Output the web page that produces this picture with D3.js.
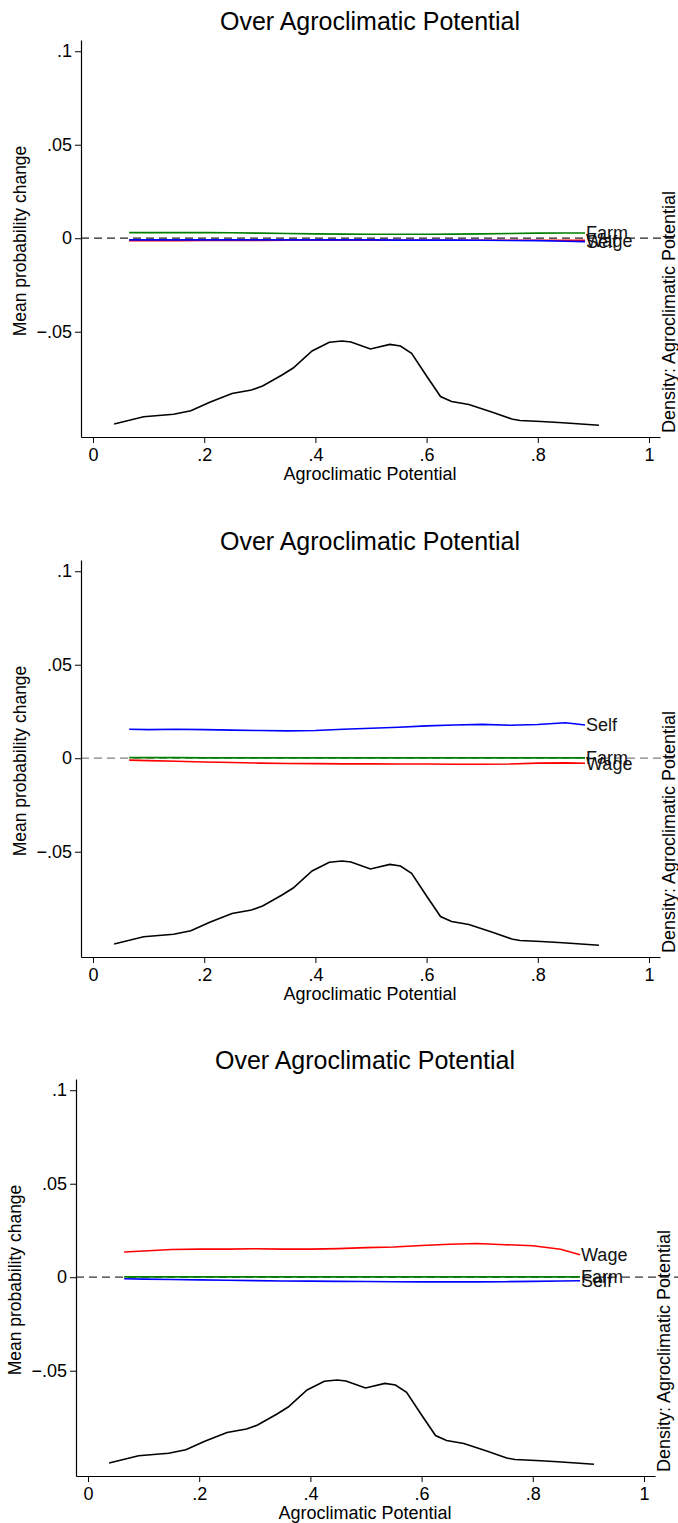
<!DOCTYPE html>
<html>
<head>
<meta charset="utf-8">
<script src="https://cdn.jsdelivr.net/npm/d3@7"></script>
<style>
  body { margin: 0; background: #fff; }
  svg { display: block; font-family: "Liberation Sans", Arial, sans-serif; }
</style>
</head>
<body>
<svg id="chart" width="678" height="1523"></svg>
<script>
// agroclimatic potential grid for the effect lines
let agro = [0.065, 0.10, 0.15, 0.20, 0.25, 0.30, 0.35, 0.40, 0.45, 0.50, 0.55, 0.60, 0.65, 0.70, 0.75, 0.80, 0.85, 0.885]

// panel 1
let farm1 = [0.0030, 0.0030, 0.0030, 0.0030, 0.0029, 0.0027, 0.0025, 0.0023, 0.0022, 0.0021, 0.0021, 0.0021, 0.0022, 0.0023, 0.0025, 0.0027, 0.0028, 0.0028]
let self1 = [-0.0009, -0.0009, -0.0009, -0.0009, -0.0009, -0.0009, -0.0009, -0.0009, -0.0009, -0.0009, -0.0010, -0.0010, -0.0010, -0.0011, -0.0012, -0.0013, -0.0016, -0.0018]
let wage1 = [-0.0013, -0.0013, -0.0013, -0.0012, -0.0012, -0.0012, -0.0011, -0.0011, -0.0011, -0.0011, -0.0011, -0.0011, -0.0011, -0.0011, -0.0011, -0.0011, -0.0011, -0.0011]

// panel 2
let farm2 = [0.0003, 0.0003, 0.0003, 0.0002, 0.0002, 0.0002, 0.0002, 0.0002, 0.0002, 0.0002, 0.0002, 0.0002, 0.0002, 0.0002, 0.0002, 0.0002, 0.0002, 0.0002]
let self2 = [0.0155, 0.0153, 0.0155, 0.0153, 0.0150, 0.0148, 0.0146, 0.0148, 0.0155, 0.0160, 0.0166, 0.0173, 0.0178, 0.0181, 0.0176, 0.0180, 0.0190, 0.0178]
let wage2 = [-0.0010, -0.0013, -0.0016, -0.0020, -0.0023, -0.0026, -0.0028, -0.0029, -0.0030, -0.0030, -0.0031, -0.0031, -0.0032, -0.0032, -0.0031, -0.0026, -0.0025, -0.0027]

// panel 3
let farm3 = [0.0002, 0.0002, 0.0002, 0.0002, 0.0002, 0.0002, 0.0002, 0.0002, 0.0002, 0.0002, 0.0002, 0.0002, 0.0002, 0.0002, 0.0002, 0.0002, 0.0002, 0.0002]
let self3 = [-0.0008, -0.0010, -0.0012, -0.0014, -0.0016, -0.0018, -0.0020, -0.0021, -0.0022, -0.0023, -0.0024, -0.0025, -0.0025, -0.0025, -0.0024, -0.0022, -0.0020, -0.0019]
let wage3 = [0.0135, 0.0140, 0.0148, 0.0150, 0.0150, 0.0152, 0.0150, 0.0150, 0.0153, 0.0158, 0.0162, 0.0170, 0.0176, 0.0180, 0.0174, 0.0168, 0.0150, 0.0120]

// kernel density of agroclimatic potential (same in every panel)
let densX = [0.038, 0.091, 0.145, 0.176, 0.21, 0.25, 0.285, 0.305, 0.34, 0.36, 0.394, 0.425, 0.448, 0.464, 0.499, 0.534, 0.553, 0.573, 0.600, 0.625, 0.645, 0.676, 0.717, 0.753, 0.768, 0.806, 0.845, 0.91]
let densY = [0.295, 0.46, 0.515, 0.596, 0.79, 0.986, 1.065, 1.156, 1.405, 1.564, 1.95, 2.147, 2.176, 2.154, 1.995, 2.10, 2.063, 1.898, 1.383, 0.918, 0.805, 0.737, 0.567, 0.408, 0.374, 0.351, 0.324, 0.268]

let xTicks = [0, 0.2, 0.4, 0.6, 0.8, 1]
let xTickLabels = ['0', '.2', '.4', '.6', '.8', '1']
let yTicks = [0.1, 0.05, 0, -0.05]
let yTickLabels = ['.1', '.05', '0', '\u2212.05']

let titleText = 'Over Agroclimatic Potential'
let xTitle = 'Agroclimatic Potential'
let yTitle = 'Mean probability change'
let y2Title = 'Density: Agroclimatic Potential'

let panels = [
    { dx: 0, dy: 0, zero: '#222', series: [
        { name: 'Wage', color: '#ff0000', values: wage1 },
        { name: 'Self', color: '#0000ff', values: self1 },
        { name: 'Farm', color: '#008000', values: farm1 }] },
    { dx: 0, dy: 520, zero: '#808080', series: [
        { name: 'Wage', color: '#ff0000', values: wage2 },
        { name: 'Self', color: '#0000ff', values: self2 },
        { name: 'Farm', color: '#008000', values: farm2 }] },
    { dx: -5, dy: 1039, zero: '#333', series: [
        { name: 'Wage', color: '#ff0000', values: wage3 },
        { name: 'Self', color: '#0000ff', values: self3 },
        { name: 'Farm', color: '#008000', values: farm3 }] }
]

let svg = d3.select('#chart')
svg.append('rect').attr('width', 678).attr('height', 1523).attr('fill', '#fff')

const drawPanel = (p) => {
    let g = svg.append('g').attr('transform', `translate(${p.dx}, ${p.dy})`)

    let x = d3.scaleLinear().domain([-0.0216, 1.0198]).range([81, 660])
    let y = d3.scaleLinear().domain([-0.1063, 0.106]).range([437, 40])
    let yDens = d3.scaleLinear().domain([0, 9]).range([437, 40])

    // title
    g.append('text')
        .attr('x', 370).attr('y', 30)
        .attr('text-anchor', 'middle')
        .attr('font-size', 25)
        .text(titleText)

    // zero reference line
    g.append('line')
        .attr('x1', 81).attr('x2', 678 - p.dx)
        .attr('y1', y(0)).attr('y2', y(0))
        .attr('stroke', p.zero)
        .attr('stroke-width', 1.3)
        .attr('stroke-dasharray', '8,5')

    // effect lines
    let line = d3.line()
        .x((d, i) => x(agro[i]))
        .y(d => y(d))

    p.series.forEach(s => {
        g.append('path')
            .attr('d', line(s.values))
            .attr('fill', 'none')
            .attr('stroke', s.color)
            .attr('stroke-width', 1.6)
    })

    p.series.forEach(s => {
        let last = s.values.length - 1
        g.append('text')
            .attr('x', x(agro[last]) + 1)
            .attr('y', y(s.values[last]))
            .attr('dy', '0.35em')
            .attr('font-size', 18)
            .attr('fill', '#111')
            .text(s.name)
    })

    // density curve
    let densLine = d3.line()
        .x((d, i) => x(densX[i]))
        .y(d => yDens(d))

    g.append('path')
        .attr('d', densLine(densY))
        .attr('fill', 'none')
        .attr('stroke', '#000')
        .attr('stroke-width', 1.6)

    // axes
    let yAxis = d3.axisLeft(y)
        .tickValues(yTicks)
        .tickFormat((d, i) => yTickLabels[i])
        .tickSizeInner(6)
        .tickSizeOuter(0)
        .tickPadding(3)

    let xAxis = d3.axisBottom(x)
        .tickValues(xTicks)
        .tickFormat((d, i) => xTickLabels[i])
        .tickSizeInner(6)
        .tickSizeOuter(0)
        .tickPadding(5)

    let ya = g.append('g').attr('transform', 'translate(81, 0)').call(yAxis)
    let xa = g.append('g').attr('transform', 'translate(0, 437)').call(xAxis)

    ;[ya, xa].forEach(a => {
        a.selectAll('text')
            .attr('font-size', 18)
            .attr('font-family', '"Liberation Sans", Arial, sans-serif')
            .attr('fill', '#000')
        a.select('.domain').attr('stroke', '#000').attr('stroke-width', 1.2)
        a.selectAll('.tick line').attr('stroke', '#000')
    })

    // axis titles
    g.append('text')
        .attr('x', 370).attr('y', 480)
        .attr('text-anchor', 'middle')
        .attr('font-size', 18)
        .text(xTitle)

    g.append('text')
        .attr('transform', 'translate(26, 241) rotate(-90)')
        .attr('text-anchor', 'middle')
        .attr('font-size', 17.5)
        .text(yTitle)

    g.append('text')
        .attr('transform', 'translate(675, 312) rotate(-90)')
        .attr('text-anchor', 'middle')
        .attr('font-size', 18)
        .text(y2Title)
}

panels.forEach(p => drawPanel(p))
</script>
</body>
</html>
